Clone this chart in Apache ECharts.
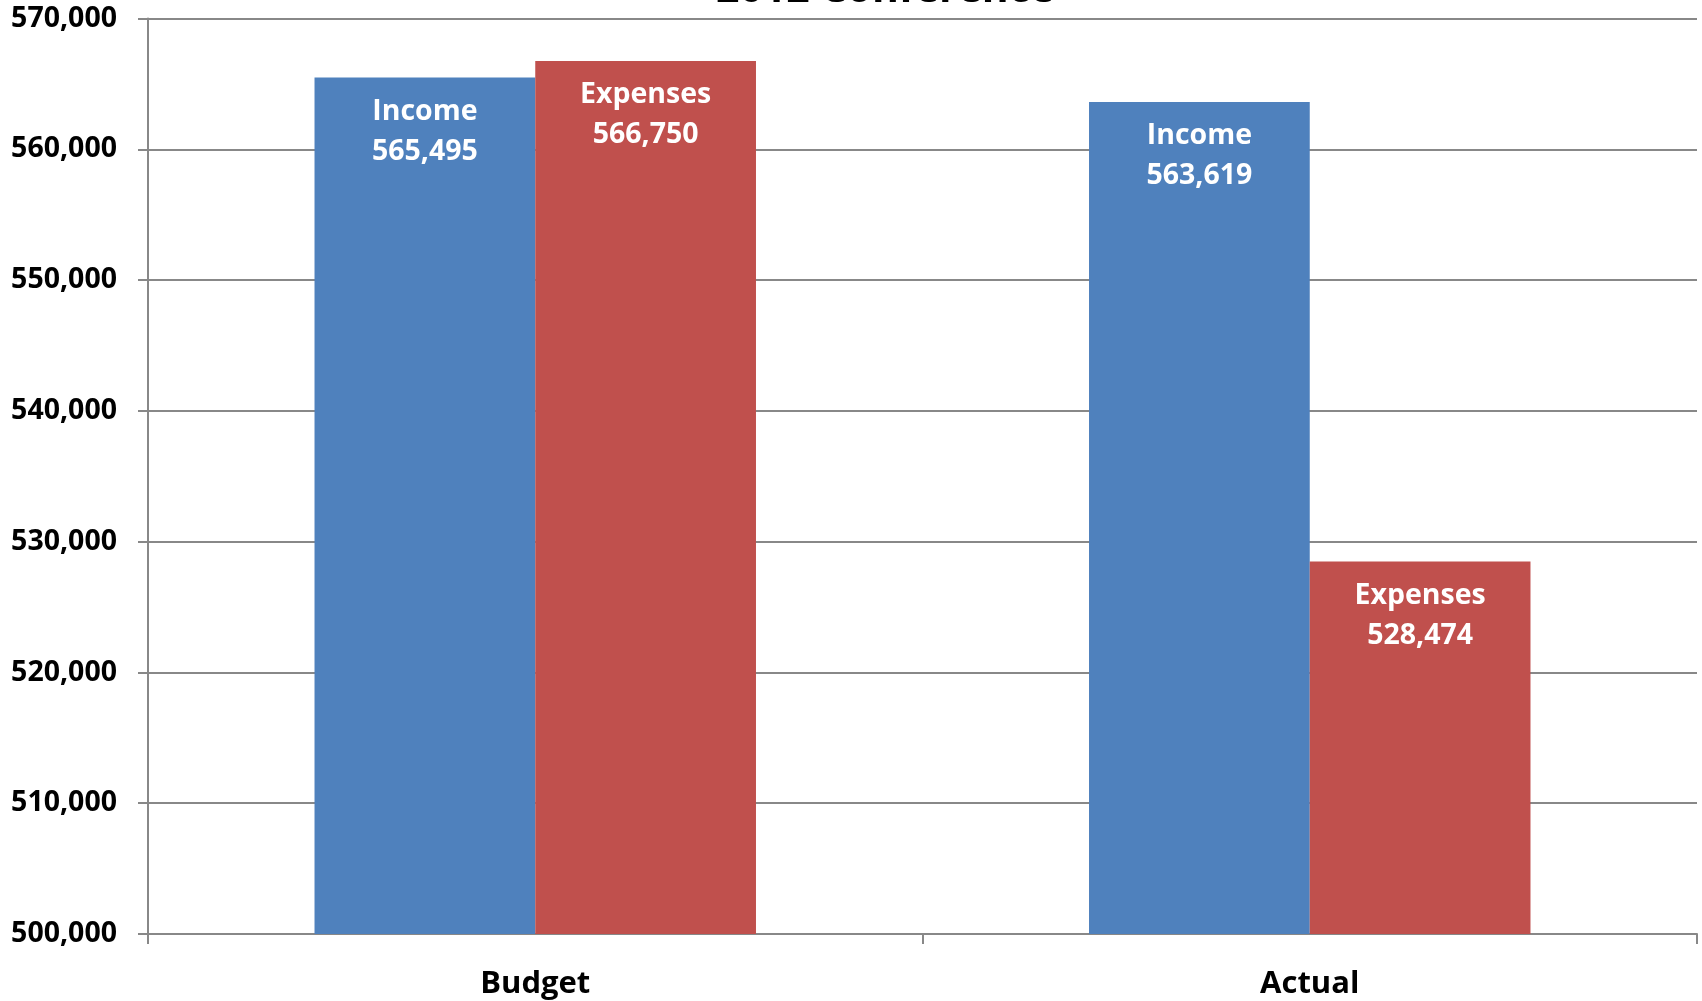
<!DOCTYPE html>
<html>
<head>
<meta charset="utf-8">
<script src="https://cdn.jsdelivr.net/npm/echarts@6/dist/echarts.min.js"></script>
<style>html,body{margin:0;padding:0;background:#fff}#c{width:1702px;height:1001px}</style>
</head>
<body>
<div id="c"></div>
<script>
const titleText = "2012 Conference";
const categories = ["Budget", "Actual"];
const incomeValues = [565495, 563619];
const expenseValues = [566750, 528474];
const yMin = 500000, yMax = 570000, yStep = 10000;

const fmt = v => v.toLocaleString('en-US');
const font = "'Open Sans', sans-serif";
const chart = echarts.init(document.getElementById('c'));
const labelCfg = name => ({
  show: true, position: 'insideTop', distance: 14,
  color: '#fff', fontFamily: font, fontWeight: 'bold', fontSize: 28.5, lineHeight: 40,
  formatter: p => name + '\n' + fmt(p.value)
});
chart.setOption({
  animation: false,
  title: {text: titleText, left: 880, top: -35, textAlign: 'center',
    textStyle: {fontFamily: font, fontWeight: 'bold', fontSize: 41, color: '#000'}},
  grid: {left: 148, right: 5, top: 18.5, bottom: 67},
  xAxis: {
    type: 'category', data: categories,
    axisLine: {lineStyle: {color: '#888', width: 2}},
    axisTick: {show: true, length: 10, lineStyle: {color: '#888', width: 2}},
    axisLabel: {color: '#000', fontFamily: font, fontWeight: 'bold', fontSize: 31, margin: 35}
  },
  yAxis: {
    type: 'value', min: yMin, max: yMax, interval: yStep,
    axisLine: {show: true, lineStyle: {color: '#888', width: 2}},
    axisTick: {show: true, length: 10, lineStyle: {color: '#888', width: 2}},
    splitLine: {lineStyle: {color: '#888', width: 2}},
    axisLabel: {color: '#000', fontFamily: font, fontWeight: 'bold', fontSize: 28.5, margin: 31, formatter: v => fmt(v)}
  },
  series: [
    {name: 'Income', type: 'bar', data: incomeValues, barGap: '0%', barCategoryGap: '43%',
     itemStyle: {color: '#4F81BD'}, label: labelCfg('Income')},
    {name: 'Expenses', type: 'bar', data: expenseValues,
     itemStyle: {color: '#C0504D'}, label: labelCfg('Expenses')}
  ]
});
</script>
</body>
</html>
